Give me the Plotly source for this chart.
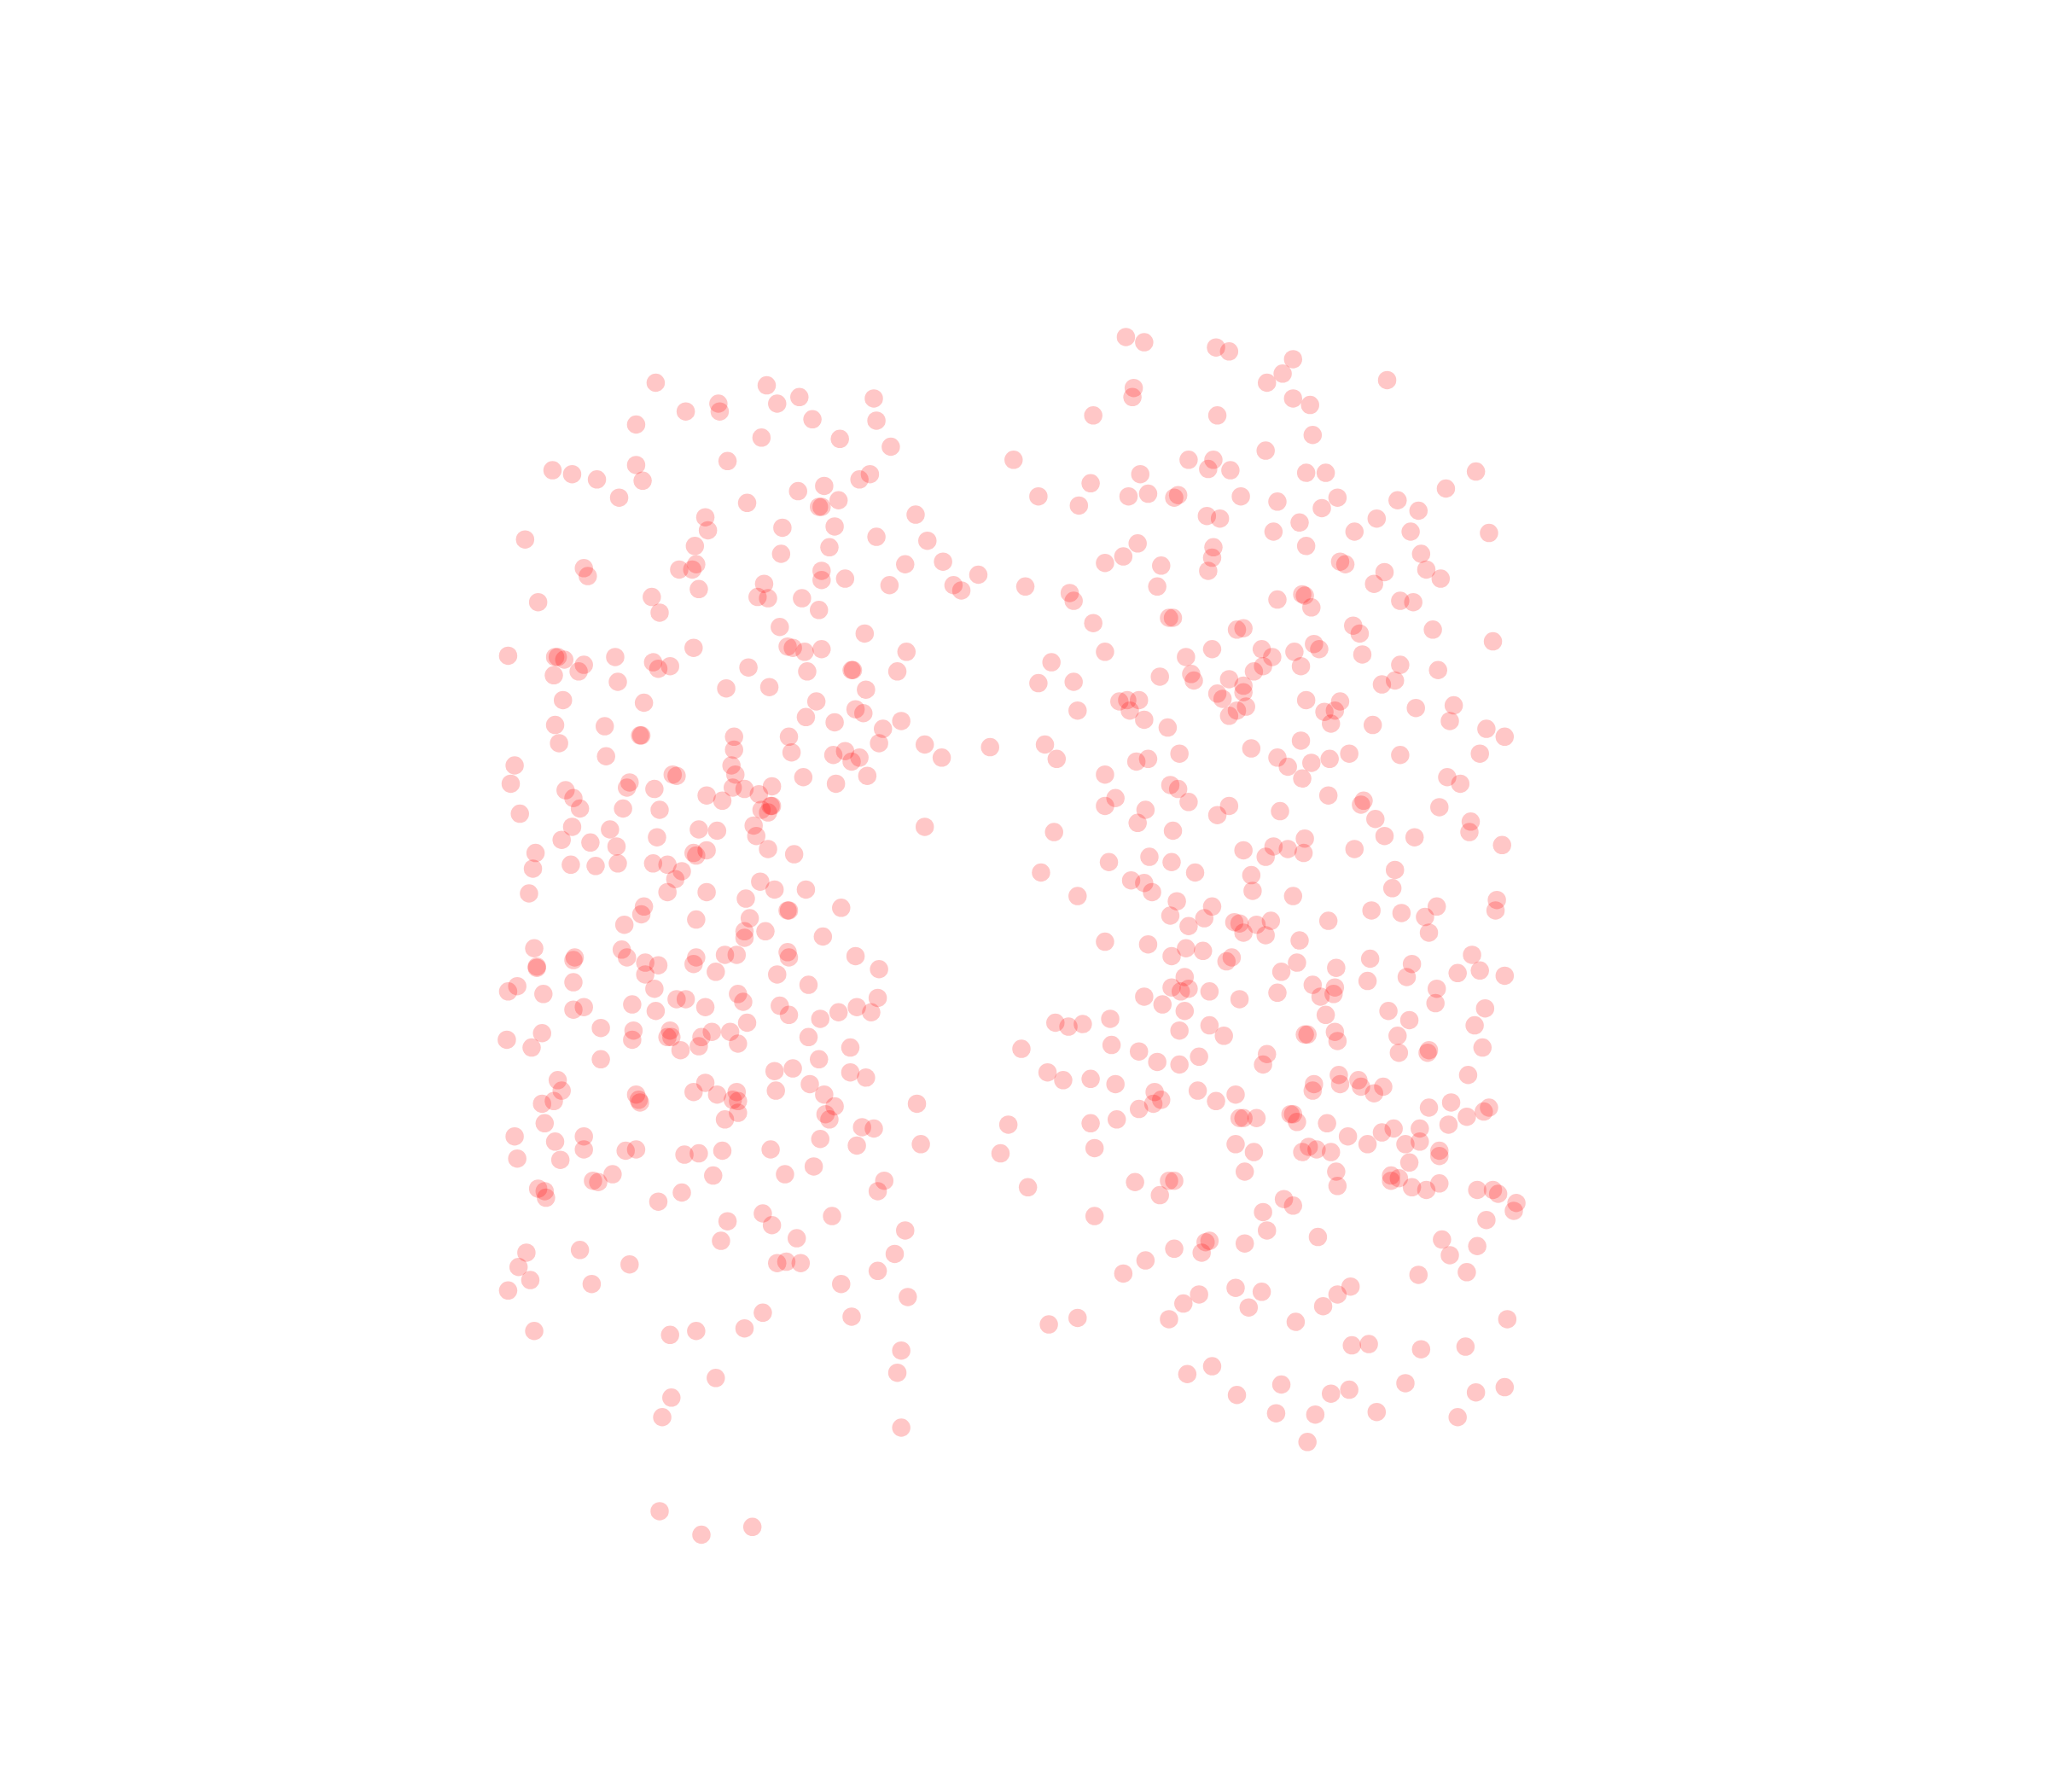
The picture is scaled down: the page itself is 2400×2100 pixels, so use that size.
import plotly.graph_objects as go

left_cluster = [(502,293),(587,295),(612,304),(669,305),(550,309),(595,309),(525,315),(551,315),(671,322),(622,321),(487,325),(583,335),(643,336),(682,342),(557,353),(487,356),(423,360),(438,363),(457,367),(492,368),(658,367),(666,363),(631,372),(611,376),(474,381),(572,385),(642,383),(627,388),(629,388),(701,394),(540,396),(542,406),(599,404),(639,403),(402,413),(671,411),(710,414),(532,418),(635,419),(598,424),(722,430),(447,435),(520,436),(530,436),(533,432),(450,441),(629,437),(629,444),(647,443),(693,432),(730,448),(749,440),(736,452),(585,447),(681,448),(535,451),(412,461),(499,457),(580,457),(588,458),(614,458),(505,469),(627,467),(597,480),(662,485),(389,502),(425,503),(427,503),(432,505),(471,503),(531,496),(603,495),(607,496),(616,499),(629,497),(694,499),(447,509),(443,514),(500,507),(504,512),(513,510),(573,511),(618,514),(652,513),(653,513),(687,514),(424,517),(473,522),(556,527),(589,526),(663,528),(431,536),(493,538),(625,537),(655,543),(661,546),(617,549),(639,553),(425,555),(463,556),(491,563),(490,563),(562,564),(604,564),(690,552),(676,558),(673,569),(428,569),(562,574),(606,576),(638,578),(647,575),(658,580),(652,583),(708,570),(721,580),(758,572),(464,579),(394,586),(560,586),(563,593),(515,593),(518,594),(615,595),(664,594),(391,600),(482,599),(480,603),(501,604),(561,603),(570,604),(591,602),(640,600),(433,605),(541,609),(581,608),(439,611),(553,613),(444,619),(398,623),(477,619),(505,620),(583,620),(588,622),(590,617),(591,617),(577,632),(708,633),(438,633),(467,635),(535,635),(549,636),(579,640),(430,643),(452,645),(503,641),(472,648),(410,653),(588,650),(608,654),(541,651),(531,653),(533,655),(437,662),(456,663),(473,661),(500,661),(408,665),(511,662),(522,667),(517,673),(582,675),(405,684),(511,683),(541,683),(593,681),(617,681),(571,688),(644,695),(493,694),(491,700),(603,697),(604,697),(574,703),(533,704),(478,708),(586,713),(570,713),(570,718),(630,717),(409,726),(476,727),(480,733),(440,733),(439,735),(411,740),(411,741),(533,733),(531,738),(555,731),(564,731),(603,729),(604,733),(655,732),(494,737),(504,739),(494,746),(548,744),(595,746),(673,742),(439,752),(396,755),(389,759),(416,761),(501,757),(565,761),(619,754),(518,765),(525,765),(569,767),(484,769),(447,771),(439,773),(540,771),(597,770),(604,777),(628,780),(642,775),(656,771),(667,775),(672,764),(502,774),(572,783),(460,787),(415,791),(485,789),(484,796),(513,789),(511,794),(514,794),(537,794),(545,790),(559,790),(619,794),(388,796),(407,802),(521,804),(535,801),(565,799),(651,802),(460,811),(627,811),(593,820),(607,818),(651,821),(663,825),(427,827),(430,835),(620,830),(540,829),(487,838),(489,842),(490,844),(531,836),(549,838),(564,836),(561,842),(565,843),(594,835),(631,838),(415,845),(424,843),(565,852),(555,857),(639,847),(632,853),(635,857),(702,845),(417,860),(660,863),(669,864),(394,870),(447,870),(425,874),(628,872),(656,877),(705,876),(447,880),(479,881),(487,880),(590,880),(524,884),(535,883),(553,881),(396,887),(429,888),(623,893),(601,899),(469,899),(546,900),(454,904),(458,905),(677,904),(412,910),(417,912),(418,917),(522,913),(504,920),(672,912),(584,929),(637,931),(557,935),(591,938),(693,942),(552,950),(610,948),(444,957),(403,959),(397,970),(482,968),(595,967),(602,966),(613,967),(685,960),(406,980),(453,983),(672,973),(644,983),(389,988),(695,993),(584,1005),(652,1008),(570,1017),(409,1019),(513,1022),(533,1019),(690,1034),(687,1051),(548,1055),(514,1070),(507,1085),(690,1093),(505,1157),(576,1169),(537,1175)]

right_cluster = [(862,258),(876,262),(931,266),(941,269),(990,275),(982,286),(970,293),(1062,291),(868,297),(867,304),(990,305),(1003,310),(837,318),(932,318),(1005,333),(969,345),(776,352),(910,352),(929,352),(925,359),(942,360),(873,363),(1000,362),(1015,362),(1130,361),(835,370),(1107,374),(795,380),(864,380),(879,378),(899,381),(902,379),(950,380),(826,387),(978,384),(1012,389),(1024,381),(1070,383),(1086,391),(924,395),(934,397),(995,400),(1054,397),(975,407),(1037,407),(1080,407),(1140,408),(871,416),(929,419),(1000,418),(860,426),(846,431),(928,427),(1026,430),(1030,432),(1088,424),(889,433),(925,437),(1060,438),(1092,436),(1103,443),(785,449),(886,449),(1052,447),(819,454),(822,460),(997,455),(999,456),(978,459),(1004,465),(1072,460),(1082,461),(895,473),(898,473),(837,477),(1036,479),(947,482),(952,481),(1041,485),(1097,482),(1143,491),(846,499),(928,497),(966,497),(991,499),(1006,493),(1010,497),(908,503),(974,503),(1043,501),(805,507),(1072,509),(1101,513),(960,514),(967,510),(996,510),(888,518),(912,516),(914,521),(941,520),(795,523),(822,522),(1058,524),(1068,521),(952,525),(952,530),(932,531),(936,535),(857,537),(863,536),(872,536),(865,544),(825,544),(1000,536),(1026,537),(1084,542),(1113,540),(954,541),(947,544),(941,548),(1014,545),(1022,544),(1019,554),(876,551),(894,557),(1051,555),(1110,552),(1138,558),(1152,564),(800,570),(958,573),(996,567),(1133,577),(809,581),(870,583),(879,581),(903,577),(978,580),(986,587),(1004,584),(1018,581),(1033,577),(1072,578),(846,593),(997,596),(1108,595),(1118,600),(896,601),(902,604),(854,611),(846,617),(910,614),(941,617),(1017,609),(1044,613),(1042,616),(1102,618),(877,620),(871,630),(932,624),(980,621),(1053,627),(1126,629),(1125,637),(807,637),(898,636),(1060,640),(1083,641),(1150,647),(952,651),(975,648),(986,650),(999,642),(998,653),(1037,650),(880,656),(849,660),(897,660),(969,656),(797,668),(915,668),(958,670),(1068,666),(866,674),(876,676),(882,683),(959,682),(1066,680),(825,686),(990,686),(901,690),(928,694),(1100,694),(1146,689),(1145,697),(896,701),(1050,697),(1073,699),(922,703),(910,709),(1017,705),(945,706),(949,707),(962,708),(973,705),(1091,702),(952,714),(969,716),(1094,714),(846,721),(879,723),(908,726),(921,728),(995,720),(897,732),(939,736),(943,733),(1049,734),(993,737),(1127,731),(1081,738),(1133,743),(1116,745),(981,744),(1023,741),(1152,747),(907,748),(1047,751),(1077,748),(897,756),(904,759),(910,757),(926,759),(1005,754),(1022,756),(1021,761),(1011,763),(978,760),(949,765),(1100,757),(876,763),(890,769),(907,774),(1063,774),(1099,768),(1137,772),(1015,777),(808,783),(818,786),(829,784),(850,780),(926,785),(1079,781),(1129,785),(903,789),(937,793),(999,792),(1001,792),(1022,790),(1024,797),(1070,793),(782,803),(851,800),(872,805),(970,807),(1094,804),(1093,806),(1071,806),(1135,802),(886,813),(903,815),(918,809),(967,815),(802,821),(1124,823),(814,827),(835,826),(854,830),(1025,823),(1026,830),(1006,830),(1005,835),(1040,827),(1042,832),(1052,837),(1059,832),(884,836),(917,835),(946,838),(883,845),(889,842),(872,849),(931,843),(1094,848),(1111,844),(1140,848),(1136,851),(1123,855),(988,853),(990,853),(949,856),(952,856),(962,856),(993,859),(855,857),(835,860),(1016,860),(772,861),(1109,861),(1067,864),(1087,864),(1058,867),(1032,870),(1076,876),(1087,874),(838,879),(946,876),(960,882),(1002,878),(997,882),(1008,880),(1019,882),(1047,876),(1102,881),(1102,885),(766,883),(1079,890),(953,897),(1023,897),(1065,900),(1071,902),(1065,904),(869,905),(895,904),(899,904),(1024,908),(1081,909),(1092,911),(1102,906),(1131,911),(1143,911),(1147,914),(787,909),(888,915),(983,918),(990,923),(1161,921),(1159,927),(838,931),(967,928),(1138,934),(970,942),(1009,947),(1104,949),(923,951),(926,950),(953,952),(899,956),(920,959),(1131,954),(1110,961),(877,965),(860,975),(1086,976),(1123,974),(946,986),(966,989),(1034,985),(1024,991),(1013,1000),(906,998),(918,991),(956,1001),(1154,1010),(825,1009),(803,1014),(895,1010),(992,1012),(1035,1030),(1048,1029),(1088,1033),(1122,1031),(928,1046),(909,1052),(981,1060),(1076,1059),(1033,1064),(1019,1067),(947,1068),(1130,1066),(1152,1062),(977,1082),(1007,1083),(1054,1081),(1116,1085),(1001,1104)]

fig = go.Figure()
for cluster in (left_cluster, right_cluster):
    fig.add_trace(go.Scatter(
        x=[p[0] for p in cluster],
        y=[p[1] for p in cluster],
        mode="markers",
        marker=dict(color="#ff0000", size=21.5, opacity=0.22, line=dict(width=0)),
        showlegend=False,
    ))

axis = dict(visible=False, showgrid=False, zeroline=False, fixedrange=True)
fig.update_layout(
    width=2400, height=2100,
    margin=dict(l=0, r=0, t=0, b=0),
    paper_bgcolor="white", plot_bgcolor="white",
    xaxis=dict(range=[5.2, 1573.2], **axis),
    yaxis=dict(range=[1377.2, 5.2], **axis),
)
fig.write_html("out.html")
